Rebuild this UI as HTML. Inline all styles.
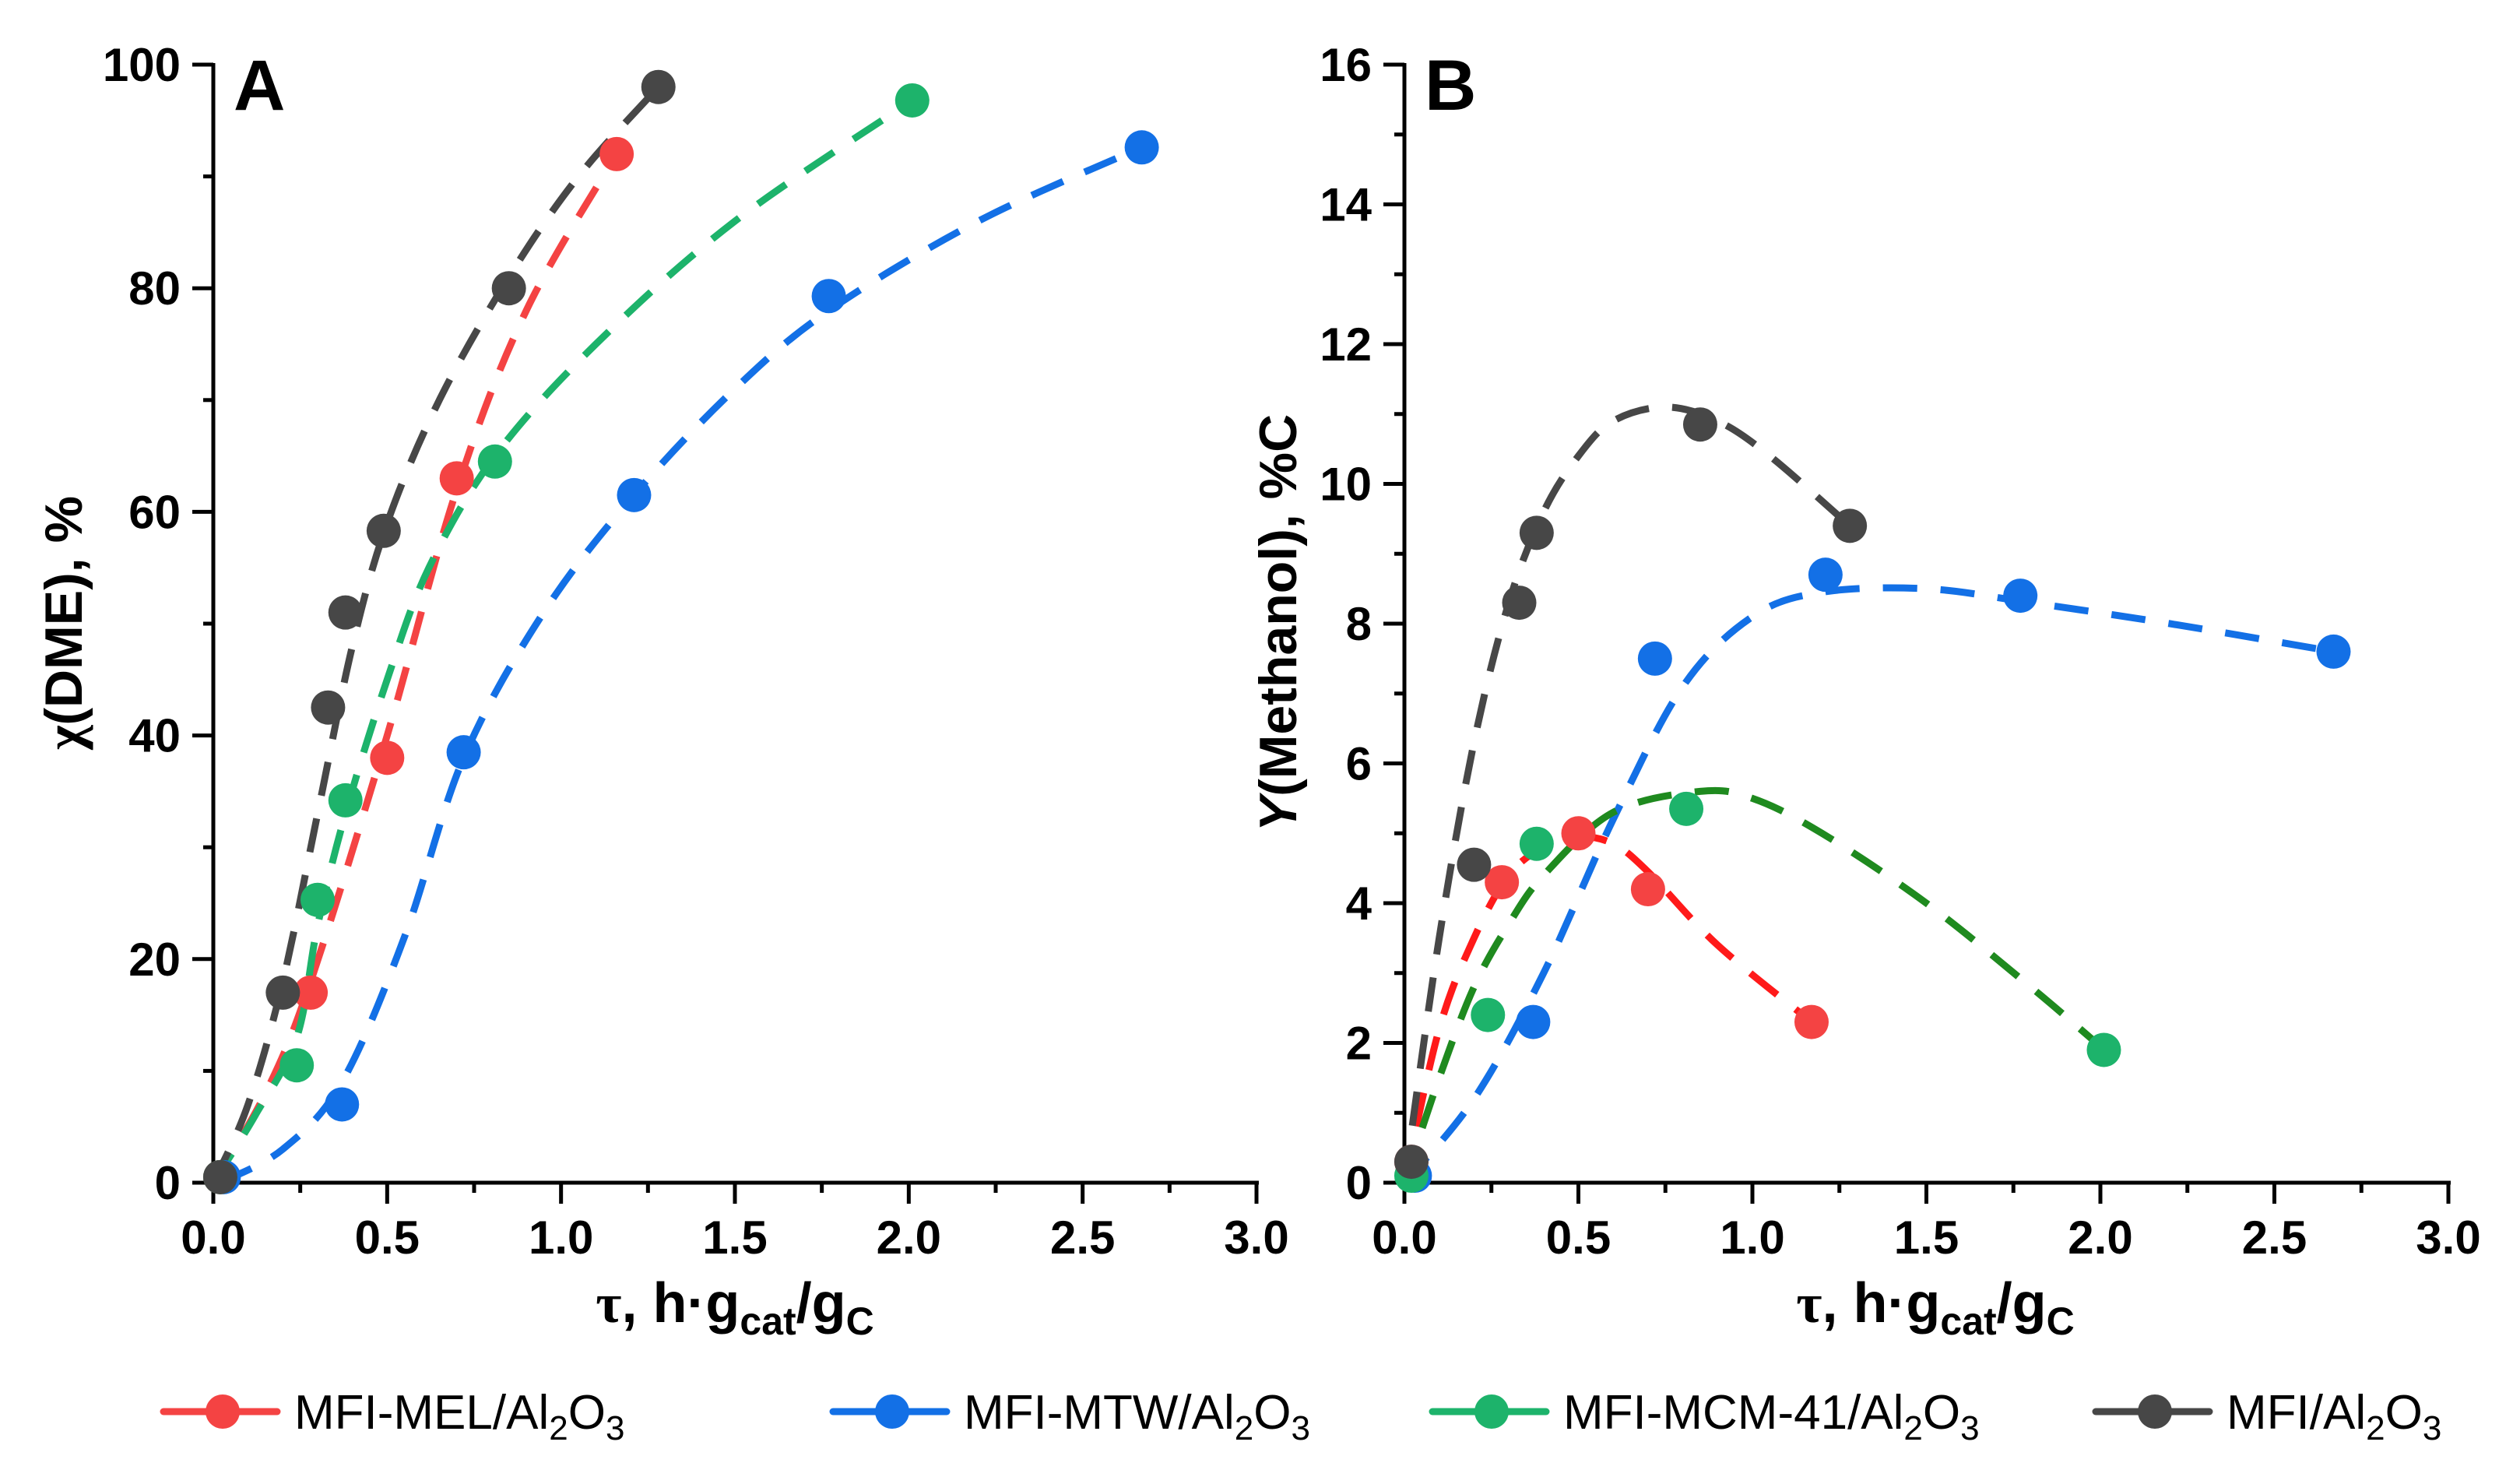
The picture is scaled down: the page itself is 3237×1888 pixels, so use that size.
<!DOCTYPE html>
<html><head><meta charset="utf-8">
<style>
html,body{margin:0;padding:0;background:#fff;}
svg{display:block;font-family:"Liberation Sans",Arial,sans-serif;}
</style></head>
<body>
<svg id="chart" width="3237" height="1888" viewBox="0 0 3237 1888" xmlns="http://www.w3.org/2000/svg"></svg>
<script>
// ---- data ----
const seriesNames = ["MFI-MEL/Al2O3","MFI-MTW/Al2O3","MFI-MCM-41/Al2O3","MFI/Al2O3"];
// Panel A: conversion of DME (%)
const aRedX = [0.02,0.28,0.50,0.70,1.16];
const aRedY = [0.5,17,38,63,92];
const aBlueX = [0.03,0.37,0.72,1.21,1.77,2.67];
const aBlueY = [0.5,7,38.5,61.5,79.3,92.6];
const aGreenX = [0.02,0.24,0.30,0.38,0.81,2.01];
const aGreenY = [0.5,10.5,25.3,34.2,64.5,96.8];
const aGreyX = [0.02,0.20,0.33,0.38,0.49,0.85,1.28];
const aGreyY = [0.5,17,42.5,51,58.3,80,98];
// Panel A fit curves
const aRedFitX = [0,0.15,0.28,0.5,0.7,0.9,1.16];
const aRedFitY = [0,8,18,40,62,78,92];
const aBlueFitX = [0.02,0.2,0.37,0.55,0.72,0.95,1.21,1.5,1.77,2.2,2.67];
const aBlueFitY = [0,3,9,22,38,51,61.5,71,78,86,92.6];
const aGreenFitX = [0,0.12,0.24,0.3,0.38,0.5,0.62,0.81,1.1,1.5,2.01];
const aGreenFitY = [0,6,13,23,33,45,55,65,75,86,96.8];
const aGreyFitX = [0,0.1,0.2,0.3,0.4,0.5,0.65,0.85,1.05,1.28];
const aGreyFitY = [0,7,18,33,48,59,70,81,90,98];
// Panel B: methanol yield (%C)
const bRedX = [0.02,0.28,0.50,0.70,1.17];
const bRedY = [0.3,4.3,5.0,4.2,2.3];
const bBlueX = [0.03,0.37,0.72,1.21,1.77,2.67];
const bBlueY = [0.1,2.3,7.5,8.7,8.4,7.6];
const bGreenX = [0.02,0.24,0.38,0.81,2.01];
const bGreenY = [0.1,2.4,4.85,5.35,1.9];
const bGreyX = [0.02,0.20,0.33,0.38,0.85,1.28];
const bGreyY = [0.3,4.55,8.3,9.3,10.85,9.4];
// Panel B fit curves
const bRedFitX = [0,0.1,0.2,0.3,0.4,0.5,0.6,0.7,0.9,1.17];
const bRedFitY = [0,2.2,3.5,4.4,4.8,4.95,4.85,4.45,3.4,2.3];
const bBlueFitX = [0,0.2,0.4,0.6,0.8,1.0,1.2,1.5,1.8,2.2,2.67];
const bBlueFitY = [0,1.2,3.0,5.2,7.1,8.1,8.45,8.5,8.3,8.0,7.6];
const bGreenFitX = [0,0.1,0.2,0.3,0.4,0.6,0.85,1.0,1.2,1.5,1.8,2.0];
const bGreenFitY = [0,1.5,2.8,3.7,4.4,5.3,5.6,5.5,5.0,4.0,2.8,1.95];
const bGreyFitX = [0,0.1,0.2,0.3,0.4,0.5,0.6,0.75,0.9,1.05,1.28];
const bGreyFitY = [0,3.5,6.3,8.3,9.6,10.4,10.9,11.1,10.9,10.4,9.4];
const xTicks = ["0.0","0.5","1.0","1.5","2.0","2.5","3.0"];
const aYTicks = ["0","20","40","60","80","100"];
const bYTicks = ["0","2","4","6","8","10","12","14","16"];

const NS="http://www.w3.org/2000/svg";
const svg=document.getElementById('chart');
function el(tag,attrs,parent){const e=document.createElementNS(NS,tag);for(const k in attrs)e.setAttribute(k,attrs[k]);(parent||svg).appendChild(e);return e;}

const markerCol=["#f44343","#1370e6","#1db36b","#474747"];
const lineColA=["#f44343","#1370e6","#1db36b","#474747"];
const lineColB=["#ff1a1a","#1370e6","#1f8a1f","#474747"];

function catmull(pts){
  let d="M"+pts[0][0]+","+pts[0][1];
  for(let i=0;i<pts.length-1;i++){
    const p0=pts[Math.max(0,i-1)],p1=pts[i],p2=pts[i+1],p3=pts[Math.min(pts.length-1,i+2)];
    const c1=[p1[0]+(p2[0]-p0[0])/6,p1[1]+(p2[1]-p0[1])/6];
    const c2=[p2[0]-(p3[0]-p1[0])/6,p2[1]-(p3[1]-p1[1])/6];
    d+=" C"+c1[0]+","+c1[1]+" "+c2[0]+","+c2[1]+" "+p2[0]+","+p2[1];
  }
  return d;
}

function panel(cfg){
  const g=el('g',{});
  
  
  const x0=cfg.x0,x1=cfg.x1,y0=1519,y1=83;
  const sx=v=>x0+(v/3)*(x1-x0);
  const sy=v=>y0-(v/cfg.ymax)*(y0-y1);
  const ax=el('line',{x1:x0-27,y1:y0,x2:x1+3,y2:y0,stroke:"#000","stroke-width":5},g);
  
  
  const ay=el('line',{x1:x0,y1:y0+27,x2:x0,y2:y1-2,stroke:"#000","stroke-width":5},g);
  
  
  for(let i=0;i<=12;i++){
    const v=i*0.25,x=sx(v),maj=i%2===0;
    el('line',{x1:x,y1:y0,x2:x,y2:y0+(maj?27:13),stroke:"#000","stroke-width":5},g);
  }
  xTicks.forEach(t=>{
    const tx=el('text',{x:sx(parseFloat(t)),y:1610,"text-anchor":"middle","font-size":60,"font-weight":"bold"},g);
    tx.textContent=t;
    
    
  });
  const nMinor=cfg.ymax/cfg.minor;
  for(let i=0;i<=nMinor;i++){
    const v=i*cfg.minor,y=sy(v),maj=(v%cfg.major)===0;
    el('line',{x1:x0-(maj?27:13),y1:y,x2:x0,y2:y,stroke:"#000","stroke-width":5},g);
  }
  cfg.yTicks.forEach(t=>{
    const ty=el('text',{x:x0-42,y:sy(parseFloat(t))+21,"text-anchor":"end","font-size":60,"font-weight":"bold"},g);
    ty.textContent=t;
    
    
  });
  const pl=el('text',{x:x0+26,y:141,"font-size":92,"font-weight":"bold"},g);
  pl.textContent=cfg.letter;
  
  
  const xt=el('text',{x:cfg.xTitleX,y:1698,"text-anchor":"middle","font-size":72,"font-weight":"bold"},g);
  xt.innerHTML='<tspan font-family="Liberation Serif, serif">τ</tspan>, h·g<tspan font-size="50" dy="16">cat</tspan><tspan dy="-16">/g</tspan><tspan font-size="50" dy="16">C</tspan>';
  
  
  const yt=el('text',{x:0,y:0,"text-anchor":"middle","font-size":68,"font-weight":"bold",transform:"translate("+cfg.yTitleX+",800) rotate(-90)"},g);
  yt.innerHTML=cfg.yTitle;
  
  
  cfg.fits.forEach((f,i)=>{
    const pts=f[0].map((v,j)=>[sx(v),sy(f[1][j])]);
    const p=el('path',{d:catmull(pts),fill:"none",stroke:cfg.lineCol[i],"stroke-width":9,"stroke-dasharray":"44,30"},g);
    
    
  });
  cfg.pts.forEach((s,i)=>{
    s[0].forEach((v,j)=>{
      const c=el('circle',{cx:sx(v),cy:sy(s[1][j]),r:22,fill:markerCol[i]},g);
      
      
    });
  });
}

panel({name:"panel-a",x0:274,x1:1614,ymax:100,major:20,minor:10,yTicks:aYTicks,letter:"A",xTitleX:944,yTitleX:105,
  yTitle:'<tspan font-family="Liberation Serif, serif">χ</tspan>(DME), %',lineCol:lineColA,
  fits:[[aRedFitX,aRedFitY],[aBlueFitX,aBlueFitY],[aGreenFitX,aGreenFitY],[aGreyFitX,aGreyFitY]],
  pts:[[aRedX,aRedY],[aBlueX,aBlueY],[aGreenX,aGreenY],[aGreyX,aGreyY]]});
panel({name:"panel-b",x0:1804,x1:3145,ymax:16,major:2,minor:1,yTicks:bYTicks,letter:"B",xTitleX:2486,yTitleX:1665,
  yTitle:'<tspan font-style="italic">Y</tspan>(Methanol), %C',lineCol:lineColB,
  fits:[[bRedFitX,bRedFitY],[bBlueFitX,bBlueFitY],[bGreenFitX,bGreenFitY],[bGreyFitX,bGreyFitY]],
  pts:[[bRedX,bRedY],[bBlueX,bBlueY],[bGreenX,bGreenY],[bGreyX,bGreyY]]});

const legX=[210,1070,1840,2692];
const legG=el('g',{});


seriesNames.forEach((n,i)=>{
  const g=el('g',{},legG);
  
  
  const x=legX[i],y=1813;
  el('line',{x1:x,y1:y,x2:x+146,y2:y,stroke:lineColA[i],"stroke-width":9,"stroke-linecap":"round"},g);
  el('circle',{cx:x+76,cy:y,r:22,fill:markerCol[i]},g);
  const t=el('text',{x:x+168,y:y+22,"font-size":62},g);
  const base=n.replace("Al2O3","");
  t.innerHTML=base+'Al<tspan font-size="44" dy="14">2</tspan><tspan dy="-14">O</tspan><tspan font-size="44" dy="14">3</tspan>';
});
</script>
</body></html>
